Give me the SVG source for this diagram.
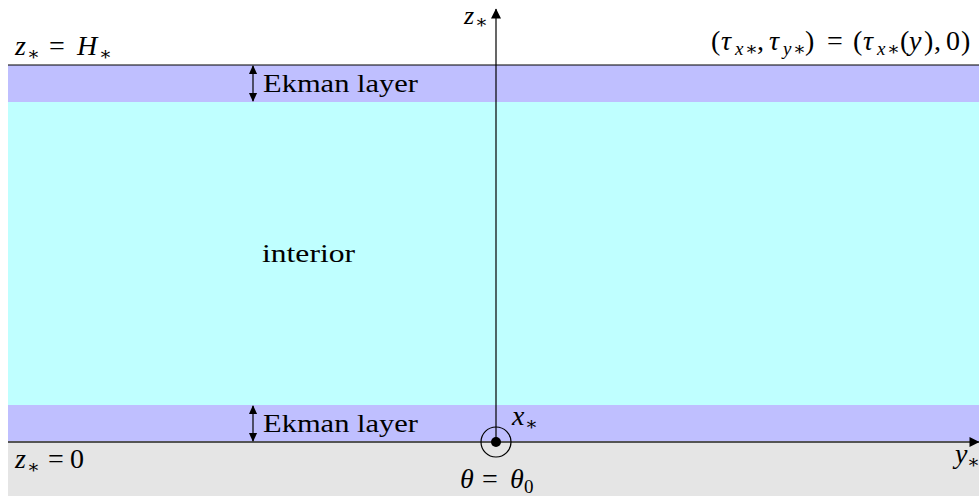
<svg xmlns="http://www.w3.org/2000/svg" width="979" height="496" viewBox="0 0 979 496">
<defs>
<style>
.t{font-family:"Liberation Serif","DejaVu Serif",serif;font-size:28px;fill:#000}
.p{font-size:26px}
.i{font-style:italic}
.s{font-size:19px}
.ln{stroke:#000;stroke-width:1.2;fill:none}
</style>
<marker id="ah" viewBox="0 0 10 10" refX="9" refY="5" markerWidth="11" markerHeight="9" markerUnits="userSpaceOnUse" orient="auto-start-reverse"><path d="M0,0.5 L10,5 L0,9.5 Z" fill="#000"/></marker>
<marker id="big" viewBox="0 0 10 10" refX="9.5" refY="5" markerWidth="16" markerHeight="10" markerUnits="userSpaceOnUse" orient="auto"><path d="M0,0 L10,5 L0,10 Z" fill="#000"/></marker>
</defs>
<rect width="979" height="496" fill="#fff"/>
<g id="ekman-top"><rect x="8" y="65" width="971" height="37" fill="#BFBFFF"/></g>
<g id="interior-region"><rect x="8" y="102" width="971" height="303" fill="#BFFFFF"/></g>
<g id="ekman-bottom"><rect x="8" y="405" width="971" height="37" fill="#BFBFFF"/></g>
<g id="ground"><rect x="8" y="442" width="971" height="54" fill="#E5E5E5"/></g>
<g id="connectors">
<line class="ln" x1="8" y1="65" x2="979" y2="65"/>
<line x1="8" y1="442" x2="979" y2="442" stroke="#555" stroke-width="2" marker-end="url(#big)"/>
<line class="ln" x1="496" y1="442" x2="496" y2="9" marker-end="url(#big)"/>
<line class="ln" x1="253" y1="66" x2="253" y2="101" marker-start="url(#ah)" marker-end="url(#ah)"/>
<line class="ln" x1="253" y1="406" x2="253" y2="441" marker-start="url(#ah)" marker-end="url(#ah)"/>
</g>
<g id="x-axis-symbol"><circle cx="496" cy="442" r="15" fill="none" stroke="#000" stroke-width="1.2"/><circle cx="496" cy="442" r="5" fill="#000"/></g>
<g id="labels">
<text class="t" y="55"><tspan class="i" x="15">z</tspan><tspan class="s" x="27" dy="5">∗</tspan><tspan x="49" dy="-5">=</tspan><tspan class="i" x="77">H</tspan><tspan class="s" x="99" dy="5">∗</tspan></text>
<text class="t p" y="24"><tspan class="i" x="464">z</tspan><tspan class="s" x="475" dy="4">∗</tspan></text>
<text class="t" y="50"><tspan x="711">(</tspan><tspan class="i" x="721">τ</tspan><tspan class="s i" x="735" dy="5">x</tspan><tspan class="s" x="745">∗</tspan><tspan x="757" dy="-5">,</tspan><tspan class="i" x="769">τ</tspan><tspan class="s i" x="783" dy="5">y</tspan><tspan class="s" x="793">∗</tspan><tspan x="805" dy="-5">)</tspan><tspan x="827">=</tspan><tspan x="853">(</tspan><tspan class="i" x="863">τ</tspan><tspan class="s i" x="877" dy="5">x</tspan><tspan class="s" x="887">∗</tspan><tspan x="900" dy="-5">(</tspan><tspan class="i" x="909">y</tspan><tspan x="924">)</tspan><tspan x="934">,</tspan><tspan x="946">0</tspan><tspan x="961">)</tspan></text>
<text class="t p" x="263" y="92" textLength="155" lengthAdjust="spacingAndGlyphs">Ekman layer</text>
<text class="t p" x="262" y="262" textLength="93" lengthAdjust="spacingAndGlyphs">interior</text>
<text class="t p" x="263" y="432" textLength="155" lengthAdjust="spacingAndGlyphs">Ekman layer</text>
<text class="t" y="425"><tspan class="i" x="512">x</tspan><tspan class="s" x="525" dy="5">∗</tspan></text>
<text class="t" y="468"><tspan class="i" x="15">z</tspan><tspan class="s" x="27" dy="5">∗</tspan><tspan x="48" dy="-5">=</tspan><tspan x="70">0</tspan></text>
<text class="t" y="488"><tspan class="i" x="460">θ</tspan><tspan x="482">=</tspan><tspan class="i" x="510">θ</tspan><tspan class="s" x="524" dy="5">0</tspan></text>
<text class="t" y="463"><tspan class="i" x="955">y</tspan><tspan class="s" x="967" dy="5">∗</tspan></text>
</g>
</svg>
